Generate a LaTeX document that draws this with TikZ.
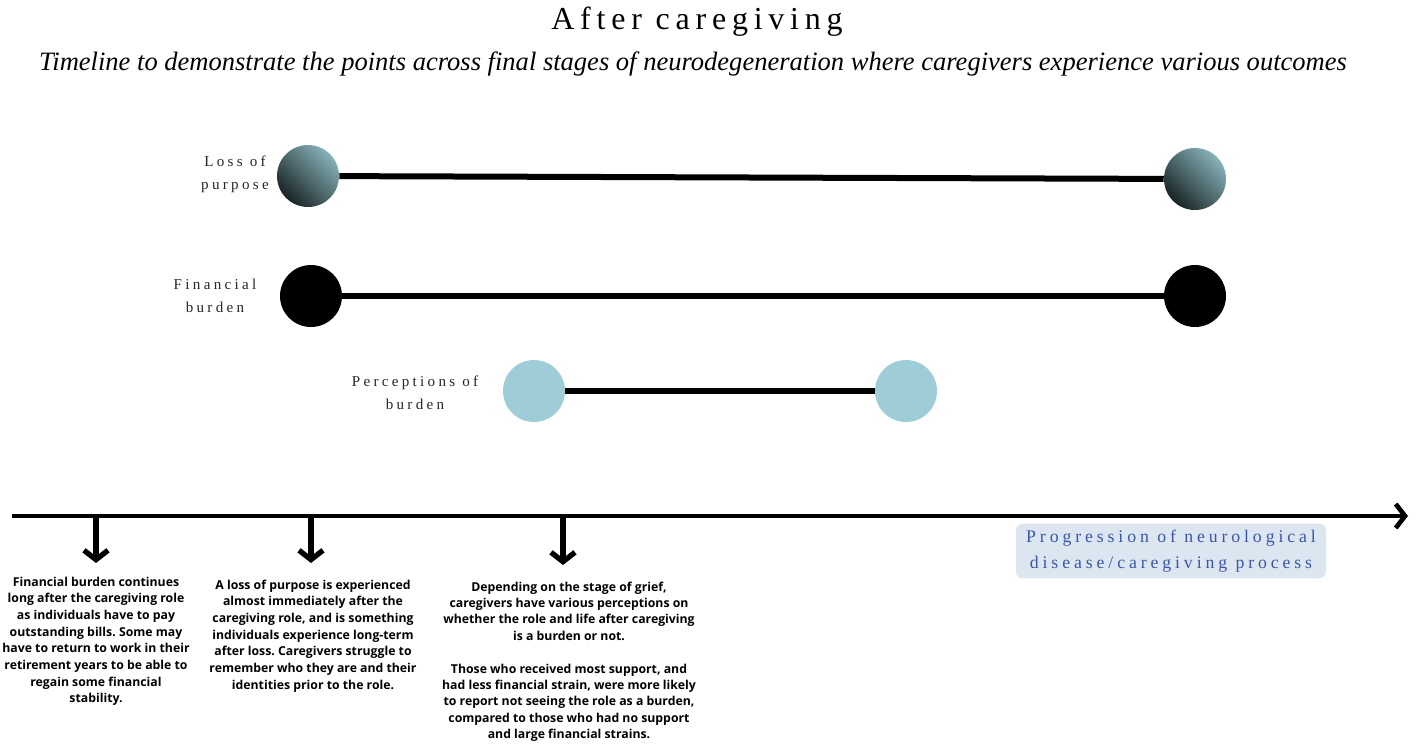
\documentclass[tikz,border=0pt]{standalone}
\usepackage{fontspec}
\setmainfont{Liberation Serif}
\newfontfamily\bodyfont{Open Sans}
\newfontfamily\spacedfont[LetterSpace=22]{Liberation Serif}
\newfontfamily\titlefont[LetterSpace=18]{Liberation Serif}
\usetikzlibrary{arrows.meta}
\definecolor{tealL}{HTML}{86B2B8}
\definecolor{tealD}{HTML}{1A2426}
\definecolor{lblue}{HTML}{9FCDD7}
\definecolor{boxblue}{HTML}{DCE6F1}
\definecolor{txtblue}{HTML}{3A56A6}
\frenchspacing
\tikzset{
  dot/.style={circle, minimum size=46.5pt, inner sep=0pt},
  tealdot/.style={dot, shading=axis, top color=tealL, bottom color=tealD, shading angle=-45},
  blackdot/.style={dot, fill=black},
  bluedot/.style={dot, fill=lblue},
  bar/.style={line width=4.5pt},
  lbl/.style={font=\spacedfont\fontsize{11.3}{17}\selectfont, align=center, text=black!85},
  body/.style={font=\bodyfont\bfseries\fontsize{9.2}{12.5}\selectfont, align=center, anchor=north},
  downarrow/.style={line width=4pt, -{Straight Barb[length=7pt, width=18pt, line width=4pt]}},
}
\begin{document}
\begin{tikzpicture}[x=0.75pt, y=-0.75pt]
\useasboundingbox (0,0) rectangle (1418,744);
% titles
\node[font=\titlefont\fontsize{24}{28}\selectfont] (title) at (697,22) {After caregiving};
\node[font=\itshape\fontsize{19.9}{22}\selectfont] (sub) at (693,64) {Timeline to demonstrate the points across final stages of neurodegeneration where caregivers experience various outcomes};
% loss of purpose
\node[tealdot] (lp1) at (308,176) {};
\node[tealdot] (lp2) at (1195,179) {};
\draw[bar] (lp1) -- (lp2);
\node[lbl] (lplab) at (235,174) {Loss of\\purpose};
% financial burden
\node[blackdot] (fb1) at (311,296) {};
\node[blackdot] (fb2) at (1195,296) {};
\draw[bar] (fb1) -- (fb2);
\node[lbl] (fblab) at (215,296) {Financial\\burden};
% perceptions
\node[bluedot] (pb1) at (534,391) {};
\node[bluedot] (pb2) at (906,391) {};
\draw[bar] (pb1) -- (pb2);
\node[lbl] (pblab) at (415,393) {Perceptions of\\burden};
% axis
\coordinate (a0) at (12,516);
\coordinate (a1) at (1408,516);
\draw[line width=3.5pt, -{Straight Barb[length=7pt, width=18pt, line width=3.5pt]}] (a0) -- (a1);
\coordinate (t1) at (96,516);
\coordinate (t2) at (311,516);
\coordinate (t3) at (563,516);
\coordinate (h1) at (96,563);
\coordinate (h2) at (311,563);
\coordinate (h3) at (563,565);
\draw[downarrow] (t1) -- (h1);
\draw[downarrow] (t2) -- (h2);
\draw[downarrow] (t3) -- (h3);
% text blocks
\node[body] (b1) at (96,572) {Financial burden continues\\long after the caregiving role\\as individuals have to pay\\outstanding bills. Some may\\have to return to work in their\\retirement years to be able to\\regain some financial\\stability.};
\node[body] (b2) at (313,575) {A loss of purpose is experienced\\almost immediately after the\\caregiving role, and is something\\individuals experience long-term\\after loss. Caregivers struggle to\\remember who they are and their\\identities prior to the role.};
\node[body, font=\bodyfont\bfseries\fontsize{9.2}{12.3}\selectfont] (b3) at (569,577) {Depending on the stage of grief,\\caregivers have various perceptions on\\whether the role and life after caregiving\\is a burden or not.\\[12.3pt]Those who received most support, and\\had less financial strain, were more likely\\to report not seeing the role as a burden,\\compared to those who had no support\\and large financial strains.};
% progression box
\node[fill=boxblue, rounded corners=5pt, minimum width=232.5pt, minimum height=41pt, text=txtblue, font=\spacedfont\fontsize{13.3}{19}\selectfont, align=center] (prog) at (1171,551) {Progression of neurological\\disease/caregiving process};
\end{tikzpicture}
\end{document}
